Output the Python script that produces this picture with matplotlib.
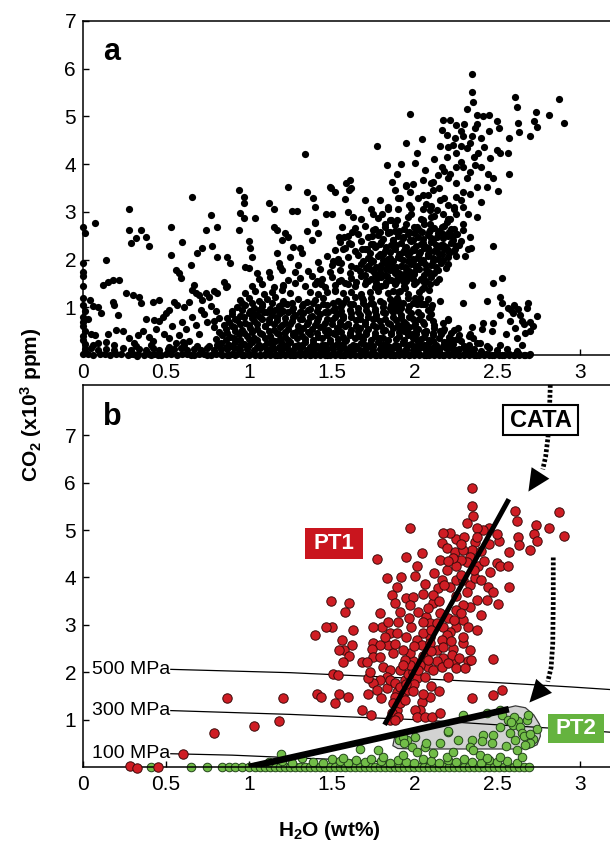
import numpy as np
import matplotlib
matplotlib.use("Agg")
import matplotlib.pyplot as plt
from matplotlib.patches import Polygon, Rectangle

plt.rcParams['font.family'] = ['Liberation Sans', 'DejaVu Sans']
plt.rcParams['mathtext.fontset'] = 'custom'
plt.rcParams['mathtext.rm'] = 'Liberation Sans:bold'
plt.rcParams['mathtext.it'] = 'Liberation Sans:bold'
plt.rcParams['mathtext.bf'] = 'Liberation Sans:bold'
plt.rcParams['mathtext.default'] = 'rm'


def pairs(text):
    v = np.array(text.replace(',', ' ').split(), dtype=float).reshape(-1, 2)
    return v[:, 0], v[:, 1]


# ---------------- data (H2O wt%, CO2 x10^3 ppm) ----------------
PT1_H2O, PT1_CO2 = pairs("""
2.346 5.88, 2.346 5.51, 2.356 5.30, 2.32 5.15, 2.607 5.41, 2.617 5.20, 2.875 5.37, 2.903 4.87,
2.815 5.04, 2.733 5.10, 2.724 4.91, 2.742 4.77, 2.697 4.58, 2.627 4.86, 2.631 4.68, 2.573 4.54,
2.513 4.76, 2.500 4.91, 2.452 5.04, 2.417 5.00, 2.376 5.04, 2.366 4.75, 2.35 4.58, 2.254 4.82,
2.214 4.93, 2.174 4.93, 2.164 4.72, 2.194 4.61, 2.244 4.54, 2.295 4.58, 2.335 4.44, 2.315 4.33,
2.279 4.37, 2.254 4.23, 2.154 4.37, 2.194 4.16, 2.164 3.95, 2.144 3.77, 2.214 3.80, 2.254 3.95,
2.295 3.95, 2.335 3.84, 2.366 3.98, 2.386 4.23, 2.456 4.12, 2.496 4.30, 2.517 4.23, 2.567 4.23,
2.573 3.80, 2.446 3.80, 2.476 3.70, 2.436 3.52, 2.507 3.43, 2.376 3.52, 2.335 3.38, 2.295 3.42,
2.254 3.31, 2.295 3.10, 2.325 2.96, 2.254 2.96, 2.214 2.85, 2.154 3.24, 2.113 3.45, 2.113 3.63,
2.053 3.66, 2.063 3.87, 2.013 4.23, 2.043 4.52, 2.003 4.02, 1.952 4.44, 1.976 5.05, 1.776 4.38,
1.836 3.98, 1.922 4.00, 1.892 3.80, 1.862 3.63, 1.952 3.56, 1.992 3.59, 1.972 3.42, 1.912 3.28,
2.023 3.28, 2.073 3.17, 2.093 3.03, 2.134 3.03, 2.174 2.96, 2.194 2.78, 2.164 2.68, 2.093 2.75,
2.053 2.82, 2.013 2.68, 2.043 2.57, 2.093 2.61, 2.134 2.47, 2.174 2.54, 2.234 2.50, 2.295 2.61,
2.335 2.47, 2.295 2.75, 2.325 2.23, 2.244 2.23, 2.224 2.37, 2.174 2.30, 2.134 2.23, 2.083 2.12,
2.033 2.15, 1.993 2.23, 1.972 2.40, 1.932 2.47, 1.872 2.40, 1.842 2.57, 1.852 2.82, 1.892 2.82,
1.802 2.96, 1.752 2.96, 1.792 3.24, 1.842 3.06, 1.752 2.61, 1.792 2.57, 1.742 2.50, 1.752 2.33,
1.792 2.33, 1.812 2.12, 1.852 2.04, 1.832 1.90, 1.792 1.83, 1.752 1.77, 1.722 1.87, 1.732 2.01,
1.682 2.22, 1.716 2.22, 1.621 2.57, 1.631 2.89, 1.573 2.47, 1.606 2.35, 1.567 2.22, 1.543 2.47,
1.561 2.68, 1.501 2.96, 1.466 2.96, 1.400 2.78, 1.497 3.51, 1.606 3.45, 1.581 3.26, 1.511 1.97,
1.541 1.94, 1.410 1.55, 1.434 1.48, 1.519 1.36, 1.546 1.55, 1.601 1.48, 1.682 1.20, 1.736 1.10,
1.718 1.55, 1.772 1.62, 1.796 1.45, 1.836 1.66, 1.852 1.84, 1.882 1.77, 1.892 1.59, 1.912 1.69,
1.932 1.55, 1.942 1.84, 1.962 1.97, 1.993 2.01, 1.972 2.15, 1.912 2.04, 1.942 2.25, 2.013 1.87,
2.063 1.90, 2.113 2.04, 2.164 2.12, 2.204 1.90, 2.254 2.08, 2.305 2.08, 2.340 2.25, 2.476 2.28,
1.882 1.48, 1.872 1.34, 1.892 1.20, 1.862 1.13, 1.902 1.06, 1.852 0.99, 1.882 0.99, 1.912 1.34,
1.942 1.41, 1.962 1.62, 2.043 1.38, 2.033 1.20, 2.003 1.20, 2.013 1.06, 2.063 1.06, 2.104 1.05,
2.093 1.48, 2.154 1.13, 2.346 1.46, 2.476 1.51, 2.527 1.62,
2.05 2.35, 2.10 2.90, 2.00 2.55, 1.95 2.75, 2.15 3.50, 2.20 3.15, 2.25 3.60, 2.28 4.05,
2.12 4.10, 2.05 3.05, 1.98 2.95, 2.08 3.35, 2.18 3.85, 2.23 4.40, 2.30 4.85, 2.40 4.55,
2.42 4.35, 1.93 2.15, 1.88 2.60, 1.97 3.15, 2.22 2.65, 2.38 2.90, 2.40 3.20,
2.00 1.75, 2.10 1.70, 2.15 1.60, 2.05 1.55, 2.20 2.20, 2.27 2.30, 2.10 2.45, 2.24 3.10,
2.28 3.25, 2.32 3.70, 2.40 3.95, 2.36 4.15, 2.45 4.70, 2.28 4.70, 2.38 4.85, 2.20 4.35,
1.90 3.05, 1.88 3.45, 1.82 2.75, 1.95 1.75, 1.99 1.60, 2.02 2.05, 2.08 2.25,
0.867 1.45, 1.205 1.45, 0.792 0.71, 1.034 0.86, 1.183 0.98, 0.603 0.27, 0.284 0.02, 0.328 -0.02,
0.455 0.00
""")

PT2_H2O, PT2_CO2 = pairs("""
0.41 0.00, 0.65 0.00, 0.75 0.00, 0.84 0.01, 0.88 0.00, 0.92 0.00, 0.96 0.01, 1.00 0.00,
1.04 0.00, 1.07 0.01, 1.10 0.00, 1.13 0.00, 1.16 0.01, 1.19 0.00, 1.22 0.00, 1.25 0.01,
1.28 0.00, 1.31 0.00, 1.34 0.01, 1.37 0.00, 1.40 0.00, 1.43 0.01, 1.46 0.00, 1.49 0.00,
1.52 0.01, 1.55 0.00, 1.58 0.00, 1.61 0.01, 1.64 0.00, 1.67 0.00, 1.70 0.01, 1.73 0.00,
1.76 0.00, 1.79 0.01, 1.82 0.00, 1.85 0.00, 1.88 0.01, 1.91 0.00, 1.94 0.00, 1.97 0.01,
2.00 0.00, 2.03 0.00, 2.06 0.01, 2.09 0.00, 2.12 0.00, 2.15 0.01, 2.18 0.00, 2.21 0.00,
2.24 0.01, 2.27 0.00, 2.30 0.00, 2.33 0.01, 2.36 0.00, 2.39 0.00, 2.42 0.01, 2.45 0.00,
2.48 0.00, 2.51 0.01, 2.54 0.00, 2.57 0.00, 2.60 0.01, 2.63 0.00, 2.66 0.00, 2.69 0.01,
1.12 0.10, 1.20 0.12, 1.26 0.08, 1.32 0.18, 1.39 0.11, 1.45 0.09, 1.50 0.16, 1.55 0.12,
1.60 0.08, 1.65 0.14, 1.70 0.10, 1.74 0.17, 1.80 0.12, 1.85 0.08, 1.90 0.15, 1.95 0.11,
2.00 0.09, 2.05 0.16, 2.10 0.12, 2.15 0.08, 2.20 0.14, 2.25 0.10, 2.30 0.17, 2.35 0.11,
2.40 0.09, 2.45 0.15, 2.50 0.10, 2.56 0.13, 2.62 0.09,
1.195 0.27, 1.572 0.18, 1.812 0.22, 1.933 0.25,
2.295 1.10, 2.436 1.14, 2.516 1.21, 2.527 1.10, 2.567 0.99, 2.627 0.96, 2.677 0.99, 2.597 0.89,
2.637 0.84, 2.516 0.84, 2.577 0.71, 2.607 0.57, 2.647 0.71, 2.718 0.60, 2.697 0.50, 2.667 0.46,
2.412 0.67, 2.472 0.67, 2.466 0.50, 2.406 0.55, 2.346 0.58, 2.265 0.56, 2.205 0.74, 2.154 0.50,
1.953 0.57, 2.004 0.64, 1.909 0.57, 1.983 0.43, 2.064 0.43, 2.017 0.32, 2.114 0.29, 2.195 0.22,
2.235 0.32, 2.336 0.43, 2.356 0.36, 2.396 0.25, 2.436 0.18, 2.516 0.22, 2.647 0.22, 1.782 0.36,
1.672 0.39, 2.737 0.81, 2.687 1.10, 2.200 0.75, 1.930 0.64, 1.940 0.50, 2.070 0.50, 2.600 1.05,
2.660 0.65, 2.550 0.45, 2.620 0.35, 2.700 0.70, 2.580 0.95
""")

# additional analyses shown only in panel a
OTHER_H2O, OTHER_CO2 = pairs("""
0.00 0.02, 0.03 0.03, 0.06 0.01, 0.10 0.03, 0.13 0.02, 0.16 0.01, 0.20 0.03, 0.23 0.02,
0.27 0.01, 0.30 0.03, 0.33 0.02, 0.37 0.01, 0.40 0.03, 0.43 0.02, 0.47 0.01, 0.50 0.03,
0.53 0.02, 0.57 0.01, 0.60 0.03, 0.63 0.02, 0.67 0.01, 0.70 0.03, 0.73 0.02, 0.77 0.01,
0.80 0.03, 0.83 0.02, 0.87 0.01, 0.90 0.03, 0.93 0.02, 0.97 0.01, 1.00 0.03, 1.03 0.02,
1.07 0.01, 1.10 0.03, 1.13 0.02, 1.17 0.01, 1.20 0.03, 1.23 0.02, 1.27 0.01, 1.30 0.03,
1.33 0.02, 1.37 0.01, 1.40 0.03, 1.43 0.02, 1.47 0.01, 1.50 0.03, 1.53 0.02, 1.57 0.01,
1.60 0.03, 1.63 0.02, 1.67 0.01, 1.70 0.03, 1.73 0.02, 1.77 0.01, 1.80 0.03, 1.83 0.02,
1.87 0.01, 1.90 0.03, 1.93 0.02, 1.97 0.01, 2.00 0.03, 2.03 0.02, 2.07 0.01, 2.10 0.03,
2.13 0.02, 2.17 0.01, 2.20 0.03, 2.23 0.02, 2.27 0.01, 2.30 0.03, 2.33 0.02, 2.37 0.01,
2.40 0.03, 2.43 0.02, 2.47 0.01, 2.50 0.02, 2.53 0.01, 2.57 0.02, 2.60 0.01, 2.63 0.02,
2.67 0.01, 2.70 0.02,
0.01 0.12, 0.05 0.14, 0.09 0.10, 0.14 0.13, 0.19 0.11, 0.24 0.15, 0.29 0.10, 0.34 0.13,
0.38 0.11, 0.42 0.15, 0.46 0.10, 0.51 0.13, 0.55 0.12, 0.59 0.15, 0.63 0.10, 0.67 0.13,
0.71 0.11, 0.75 0.15, 0.79 0.10, 0.83 0.13, 0.87 0.12, 0.91 0.15, 0.95 0.10, 0.99 0.13,
1.03 0.11, 1.07 0.15, 1.11 0.10, 1.15 0.13, 1.19 0.12, 1.23 0.15, 1.27 0.10, 1.31 0.13,
1.35 0.11, 1.39 0.15, 1.43 0.10, 1.47 0.13, 1.51 0.12, 1.55 0.15, 1.59 0.10, 1.63 0.13,
1.67 0.11, 1.71 0.15, 1.75 0.10, 1.79 0.13, 1.83 0.12, 1.87 0.15, 1.91 0.10, 1.95 0.13,
1.99 0.11, 2.03 0.15, 2.07 0.10, 2.11 0.13, 2.15 0.12, 2.19 0.15, 2.23 0.10, 2.27 0.13,
2.31 0.11, 2.36 0.12,
0.00 2.69, 0.01 2.56, 0.07 2.76, 0.00 1.92, 0.00 1.75, 0.00 1.66, 0.00 1.45, 0.00 1.20,
0.00 1.05, 0.01 0.92, 0.00 0.80, 0.00 0.70, 0.00 0.60, 0.01 0.50, 0.00 0.40, 0.00 0.32,
0.01 0.24, 0.04 1.15, 0.06 1.02, 0.09 1.00, 0.11 0.88, 0.03 0.75, 0.05 0.45, 0.07 0.42,
0.06 0.20, 0.09 0.25, 0.14 1.99, 0.12 1.47, 0.15 1.54, 0.18 1.57, 0.22 1.57, 0.18 1.12,
0.19 1.05, 0.21 0.84, 0.15 0.45, 0.20 0.52, 0.24 0.50, 0.14 0.28, 0.19 0.22,
0.28 3.07, 0.28 2.62, 0.29 2.34, 0.32 2.45, 0.35 2.62, 0.38 2.47, 0.40 2.29, 0.26 1.29,
0.30 1.26, 0.34 1.22, 0.35 1.08, 0.42 1.12, 0.46 1.15,
0.28 0.35, 0.31 0.25, 0.33 0.42, 0.36 0.50, 0.40 0.38, 0.42 0.30, 0.44 0.55, 0.46 0.72,
0.48 0.80, 0.50 0.88, 0.43 0.74, 0.38 0.75, 0.49 0.45, 0.52 0.35, 0.54 0.60, 0.56 0.25,
0.58 0.42, 0.60 0.70, 0.62 0.55, 0.64 0.30, 0.66 0.80, 0.68 0.62, 0.70 0.45,
0.53 2.69, 0.53 2.10, 0.56 1.78, 0.58 1.71, 0.59 1.62, 0.60 2.36, 0.66 3.32, 0.65 1.89,
0.67 1.47, 0.66 1.36, 0.69 2.13, 0.72 2.24, 0.77 2.94, 0.78 2.29, 0.74 2.62, 0.81 2.69,
0.81 2.06, 0.87 2.06, 0.89 1.92, 0.85 1.54, 0.86 1.43,
0.55 1.12, 0.57 1.05, 0.52 0.95, 0.61 1.00, 0.64 1.12, 0.68 1.30, 0.70 1.25, 0.72 1.15,
0.74 1.30, 0.76 1.22, 0.79 1.35, 0.81 1.30, 0.71 0.95, 0.73 0.85, 0.75 0.70, 0.77 1.02,
0.79 0.58, 0.80 0.92, 0.82 0.78,
0.94 3.46, 0.97 3.32, 0.97 3.18, 0.95 2.97, 0.97 2.87, 1.04 2.87, 0.94 2.62, 1.00 2.38,
1.01 2.24, 1.02 2.06, 0.98 1.85, 1.00 1.82, 1.05 1.71, 1.12 3.18, 1.15 3.07, 1.15 2.69,
1.17 2.62, 1.17 2.13, 1.19 1.85, 1.20 2.41, 1.24 2.48, 1.24 3.53, 1.26 3.02, 1.29 3.02,
1.22 2.55, 1.27 2.27, 1.31 2.24, 1.32 2.13, 1.34 4.21, 1.35 3.41, 1.39 3.28, 1.40 3.11,
1.35 2.59, 1.38 2.41, 1.40 2.76, 1.42 2.55,
0.83 0.26, 0.88 0.22, 0.92 0.28, 0.97 0.24, 1.02 0.27, 1.06 0.22, 1.11 0.26, 1.16 0.29,
1.20 0.23, 1.25 0.27, 1.30 0.22, 1.34 0.28, 1.39 0.25, 1.44 0.22, 1.49 0.27, 1.53 0.24,
1.58 0.29, 1.63 0.22, 1.68 0.26, 1.73 0.23, 1.78 0.28, 1.83 0.24, 1.88 0.21, 1.93 0.27,
1.98 0.23, 2.03 0.28, 2.08 0.24, 2.13 0.22, 2.18 0.27, 2.23 0.23, 2.28 0.29, 2.33 0.22,
2.38 0.26,
0.84 0.42, 0.89 0.38, 0.94 0.44, 0.99 0.40, 1.03 0.36, 1.08 0.43, 1.13 0.39, 1.18 0.45,
1.22 0.37, 1.27 0.42, 1.32 0.40, 1.37 0.44, 1.42 0.38, 1.47 0.41, 1.52 0.45, 1.57 0.37,
1.61 0.42, 1.66 0.39, 1.71 0.44, 1.76 0.40, 1.81 0.36, 1.86 0.43, 1.91 0.39, 1.96 0.41,
2.01 0.45, 2.06 0.38, 2.11 0.42, 2.16 0.44, 2.21 0.37, 2.27 0.41, 2.33 0.39,
0.86 0.55, 0.91 0.58, 0.96 0.52, 1.01 0.57, 1.05 0.54, 1.10 0.60, 1.15 0.53, 1.19 0.58,
1.24 0.55, 1.29 0.51, 1.33 0.57, 1.38 0.54, 1.43 0.59, 1.48 0.52, 1.53 0.56, 1.58 0.60,
1.62 0.53, 1.67 0.57, 1.72 0.54, 1.77 0.59, 1.82 0.52, 1.87 0.56, 1.92 0.53, 1.97 0.58,
2.02 0.55, 2.07 0.51, 2.12 0.57, 2.18 0.54, 2.24 0.52,
0.88 0.70, 0.93 0.74, 0.98 0.68, 1.03 0.72, 1.08 0.76, 1.12 0.69, 1.17 0.73, 1.22 0.67,
1.26 0.71, 1.31 0.75, 1.36 0.69, 1.41 0.72, 1.46 0.68, 1.50 0.74, 1.55 0.70, 1.60 0.66,
1.65 0.73, 1.70 0.69, 1.75 0.75, 1.79 0.71, 1.84 0.68, 1.89 0.73, 1.94 0.70, 1.99 0.76,
2.05 0.69, 2.11 0.72, 2.17 0.68,
0.90 0.86, 0.95 0.82, 1.00 0.88, 1.05 0.84, 1.09 0.90, 1.14 0.83, 1.19 0.87, 1.24 0.91,
1.28 0.84, 1.33 0.88, 1.38 0.82, 1.43 0.86, 1.48 0.90, 1.53 0.85, 1.57 0.81, 1.62 0.87,
1.67 0.84, 1.72 0.89, 1.77 0.83, 1.82 0.87, 1.87 0.91, 1.92 0.84, 1.98 0.88, 2.04 0.83,
2.10 0.86,
0.93 1.00, 0.98 1.04, 1.03 0.98, 1.08 1.03, 1.13 0.97, 1.18 1.02, 1.23 1.06, 1.27 0.99,
1.32 1.03, 1.37 0.97, 1.42 1.01, 1.47 1.05, 1.52 0.98, 1.56 1.02, 1.61 1.06, 1.66 0.99,
1.71 1.03, 1.76 0.97, 1.81 1.01, 1.86 1.05, 1.92 0.99, 1.97 1.02, 2.04 1.06, 2.10 0.99,
0.95 1.15, 1.00 1.19, 1.06 1.13, 1.11 1.17, 1.16 1.21, 1.21 1.14, 1.30 1.18, 1.35 1.12,
1.40 1.16, 1.45 1.20, 1.54 1.13, 1.59 1.17, 1.64 1.21, 1.69 1.15, 1.74 1.19, 1.79 1.13,
1.85 1.18, 1.90 1.14, 1.96 1.20, 2.02 1.15, 2.08 1.18,
0.98 1.30, 1.04 1.34, 1.09 1.28, 1.14 1.32, 1.20 1.36, 1.25 1.29, 1.37 1.33, 1.42 1.27,
1.47 1.31, 1.52 1.35, 1.57 1.29, 1.62 1.33, 1.68 1.27, 1.73 1.31, 1.78 1.35, 1.84 1.29,
1.90 1.33, 1.96 1.28, 2.03 1.32, 2.09 1.36,
1.02 1.45, 1.08 1.49, 1.15 1.43, 1.21 1.47, 1.28 1.51, 1.34 1.44, 1.40 1.48, 1.46 1.42,
1.52 1.46, 1.58 1.50, 1.64 1.44, 1.70 1.48, 1.76 1.42, 1.82 1.46, 1.88 1.50, 1.94 1.44,
2.00 1.48, 2.06 1.43,
1.06 1.60, 1.13 1.64, 1.24 1.58, 1.31 1.62, 1.38 1.66, 1.44 1.59, 1.50 1.63, 1.56 1.57,
1.62 1.61, 1.68 1.65, 1.74 1.59, 1.80 1.63, 1.86 1.57, 1.92 1.61, 1.98 1.65, 2.04 1.60,
2.10 1.63,
1.12 1.75, 1.20 1.79, 1.28 1.73, 1.36 1.77, 1.43 1.81, 1.49 1.74, 1.55 1.78, 1.61 1.72,
1.67 1.76, 1.73 1.80, 1.79 1.74, 1.85 1.78, 1.91 1.72, 1.97 1.76, 2.03 1.80, 2.09 1.75,
2.14 1.78,
1.18 1.92, 1.30 1.88, 1.42 1.94, 1.50 1.88, 1.56 1.92, 1.62 1.86, 1.68 1.90, 1.74 1.94,
1.80 1.88, 1.86 1.92, 1.92 1.86, 1.98 1.90, 2.04 1.94, 2.10 1.88, 2.16 1.92,
1.25 2.05, 1.47 2.08, 1.54 2.02, 1.60 2.06, 1.66 2.10, 1.72 2.04, 1.78 2.08, 1.84 2.02,
1.90 2.06, 1.96 2.10, 2.02 2.04, 2.08 2.08, 2.14 2.02, 2.20 2.06,
1.52 2.20, 1.58 2.24, 1.64 2.18, 1.70 2.22, 1.76 2.26, 1.82 2.19, 1.88 2.23, 1.94 2.17,
2.00 2.21, 2.06 2.25, 2.12 2.19, 2.18 2.23, 2.24 2.18,
1.55 2.36, 1.62 2.32, 1.68 2.38, 1.74 2.33, 1.80 2.37, 1.86 2.31, 1.92 2.35, 1.98 2.39,
2.04 2.33, 2.10 2.37, 2.16 2.31, 2.22 2.35, 2.28 2.39,
1.60 2.50, 1.66 2.54, 1.72 2.48, 1.78 2.52, 1.84 2.56, 1.90 2.49, 1.96 2.53, 2.02 2.47,
2.08 2.51, 2.14 2.55, 2.20 2.49, 2.26 2.53,
1.64 2.66, 1.70 2.70, 1.76 2.64, 1.82 2.68, 1.88 2.72, 1.94 2.65, 2.00 2.69, 2.06 2.74,
2.12 2.67, 2.18 2.71, 2.24 2.65, 1.68 2.85, 1.78 2.88, 1.86 2.82, 1.96 2.90, 2.04 2.84,
2.12 2.92, 2.20 2.86, 1.60 3.00, 1.74 3.05, 1.84 3.10, 1.98 3.08, 2.10 3.12, 2.24 3.05,
1.70 3.25, 1.90 3.30, 2.05 3.35, 2.18 3.28, 1.62 3.50, 1.95 3.55, 2.10 3.60, 2.20 3.70,
1.49 3.53, 1.52 3.42, 1.59 3.60, 1.61 3.67,
0.32 0.18, 0.41 0.20, 0.52 0.17, 0.61 0.20, 0.69 0.19, 0.76 0.18, 0.81 0.20, 0.86 0.17,
0.90 0.19, 0.95 0.18, 1.00 0.20, 1.05 0.17, 1.09 0.19, 1.14 0.21, 1.18 0.17, 1.23 0.20,
1.28 0.18, 1.32 0.20, 1.37 0.17, 1.41 0.19, 1.46 0.21, 1.51 0.18, 1.56 0.20, 1.61 0.17,
1.65 0.19, 1.70 0.21, 1.75 0.18, 1.80 0.20, 1.85 0.17, 1.90 0.19, 1.96 0.20, 2.01 0.18,
2.06 0.20, 2.12 0.17, 2.17 0.19, 2.22 0.20, 2.30 0.18,
0.80 0.33, 0.86 0.31, 0.91 0.35, 0.95 0.32, 1.00 0.34, 1.05 0.31, 1.10 0.35, 1.14 0.32,
1.19 0.34, 1.24 0.31, 1.29 0.35, 1.34 0.33, 1.39 0.31, 1.44 0.35, 1.49 0.32, 1.54 0.34,
1.59 0.31, 1.64 0.35, 1.69 0.33, 1.74 0.31, 1.79 0.35, 1.84 0.32, 1.89 0.34, 1.94 0.31,
1.99 0.35, 2.04 0.33, 2.09 0.31, 2.15 0.35, 2.21 0.32, 2.26 0.34,
0.82 0.48, 0.87 0.46, 0.92 0.50, 0.97 0.47, 1.02 0.49, 1.07 0.46, 1.12 0.50, 1.17 0.47,
1.22 0.49, 1.27 0.46, 1.31 0.50, 1.36 0.48, 1.41 0.46, 1.46 0.50, 1.51 0.47, 1.56 0.49,
1.61 0.46, 1.66 0.50, 1.71 0.48, 1.76 0.46, 1.81 0.50, 1.86 0.47, 1.91 0.49, 1.96 0.46,
2.01 0.50, 2.06 0.48, 2.11 0.46, 2.17 0.50, 2.22 0.47,
0.85 0.63, 0.90 0.61, 0.95 0.65, 1.00 0.62, 1.05 0.64, 1.10 0.61, 1.15 0.65, 1.20 0.62,
1.25 0.64, 1.30 0.61, 1.35 0.65, 1.40 0.63, 1.45 0.61, 1.50 0.65, 1.55 0.62, 1.60 0.64,
1.65 0.61, 1.70 0.65, 1.75 0.63, 1.80 0.61, 1.85 0.65, 1.90 0.62, 1.95 0.64, 2.00 0.61,
2.06 0.65, 2.12 0.62,
0.87 0.78, 0.92 0.76, 0.97 0.80, 1.02 0.77, 1.07 0.79, 1.12 0.76, 1.17 0.80, 1.22 0.77,
1.27 0.79, 1.32 0.76, 1.37 0.80, 1.42 0.78, 1.47 0.76, 1.52 0.80, 1.57 0.77, 1.62 0.79,
1.67 0.76, 1.72 0.80, 1.77 0.78, 1.82 0.76, 1.87 0.80, 1.92 0.77, 1.97 0.79, 2.03 0.76,
2.09 0.79,
0.90 0.93, 0.96 0.95, 1.01 0.92, 1.06 0.94, 1.11 0.91, 1.16 0.95, 1.21 0.92, 1.26 0.94,
1.31 0.91, 1.36 0.95, 1.41 0.93, 1.46 0.91, 1.51 0.95, 1.56 0.92, 1.61 0.94, 1.66 0.91,
1.71 0.95, 1.76 0.93, 1.81 0.91, 1.86 0.95, 1.91 0.92, 1.96 0.94, 2.02 0.91, 2.08 0.94,
0.96 1.08, 1.02 1.10, 1.08 1.07, 1.14 1.09, 1.20 1.06, 1.26 1.10, 1.33 1.07, 1.39 1.09,
1.45 1.06, 1.51 1.10, 1.57 1.08, 1.63 1.06, 1.69 1.10, 1.75 1.07, 1.81 1.09, 1.87 1.06,
1.93 1.10, 1.99 1.08, 2.05 1.06,
1.65 1.52, 1.71 1.55, 1.77 1.51, 1.83 1.54, 1.89 1.53, 1.95 1.56, 2.01 1.52, 2.07 1.55,
2.13 1.52, 1.70 1.67, 1.76 1.70, 1.82 1.68, 1.88 1.71, 1.94 1.67, 2.00 1.70, 2.06 1.68,
2.12 1.71, 1.65 1.83, 1.71 1.82, 1.77 1.85, 1.83 1.81, 1.89 1.84, 1.95 1.82, 2.01 1.85,
2.07 1.81, 2.13 1.84, 2.19 1.82, 1.69 1.98, 1.75 1.97, 1.81 2.00, 1.87 1.96, 1.93 1.99,
1.99 1.97, 2.05 2.00, 2.11 1.96, 2.17 1.99, 1.73 2.13, 1.79 2.12, 1.85 2.15, 1.91 2.11,
1.97 2.14, 2.03 2.12, 2.09 2.15, 2.15 2.11, 2.21 2.14, 1.77 2.28, 1.83 2.27, 1.89 2.30,
1.95 2.26, 2.01 2.29, 2.07 2.27, 2.13 2.30, 2.19 2.26, 2.25 2.29, 1.81 2.43, 1.87 2.42,
1.93 2.45, 1.99 2.41, 2.05 2.44, 2.11 2.42, 2.17 2.45, 2.23 2.41, 1.85 2.58, 1.91 2.60,
1.97 2.57, 2.03 2.61, 2.09 2.58, 2.15 2.60, 2.21 2.57
""")

# isobars (panel b)
ISO_500_X = [0.53, 1.25, 2.00, 2.50, 2.94, 3.20]
ISO_500_Y = [2.06, 1.99, 1.87, 1.78, 1.69, 1.63]
ISO_300_X = [0.53, 1.25, 2.00, 2.50, 2.82, 3.20]
ISO_300_Y = [1.19, 1.11, 1.00, 0.89, 0.82, 0.73]
ISO_100_X = [0.53, 0.90, 1.30, 1.60, 2.00, 2.40]
ISO_100_Y = [0.28, 0.25, 0.19, 0.15, 0.08, 0.02]
ISO_LABELS = ["500 MPa", "300 MPa", "100 MPa"]

# trend lines
PT1_TREND_X = [1.82, 2.57]
PT1_TREND_Y = [0.89, 5.65]
PT2_TREND_X = [1.00, 2.57]
PT2_TREND_Y = [0.00, 1.22]

# PT2 field outline
FIELD_X = [1.87, 1.88, 1.92, 2.10, 2.30, 2.45, 2.55, 2.61, 2.67, 2.72, 2.755, 2.76, 2.74, 2.69, 2.60, 2.00, 1.90]
FIELD_Y = [0.45, 0.62, 0.70, 0.84, 1.00, 1.13, 1.24, 1.29, 1.25, 1.10, 0.90, 0.65, 0.47, 0.39, 0.38, 0.38, 0.39]

# dotted arrows
ARROW1_X = [2.820, 2.816, 2.806, 2.792, 2.775]
ARROW1_Y = [8.06, 7.60, 6.95, 6.55, 6.28]
ARROW1_TIP = (2.688, 5.81)
ARROW2_X = [2.838, 2.838, 2.835, 2.825, 2.805]
ARROW2_Y = [4.42, 3.50, 2.60, 2.10, 1.80]
ARROW2_TIP = (2.694, 1.36)

XTICKS = [0, 0.5, 1, 1.5, 2, 2.5, 3]
XTICK_LABELS = ["0", "0.5", "1", "1.5", "2", "2.5", "3"]
YTICKS = [1, 2, 3, 4, 5, 6, 7]
YTICK_LABELS = ["1", "2", "3", "4", "5", "6", "7"]

RED = "#cf1d24"
GREEN = "#72bd48"

# ---------------- figure ----------------
W, H = 610, 843
fig = plt.figure(figsize=(W / 100, H / 100), dpi=100)


def px_axes(left, top, right, bottom):
    return [left / W, 1 - bottom / H, (right - left) / W, (bottom - top) / H]


axA = fig.add_axes(px_axes(83, 21, 610, 355))
axB = fig.add_axes(px_axes(83, 385, 610, 767))

for ax in (axA, axB):
    ax.set_xlim(0, 527 / 165.7)
    ax.spines['right'].set_visible(False)
    for s in ('left', 'top', 'bottom'):
        ax.spines[s].set_linewidth(1.1)
    ax.tick_params(direction='in', length=4, width=1, labelsize=15, pad=5,
                   top=False, right=False)
    ax.set_xticks(XTICKS)
    ax.set_xticklabels(XTICK_LABELS)
    ax.set_yticks(YTICKS)
    ax.set_yticklabels(YTICK_LABELS)
    ax.tick_params(axis='x', pad=6)

axA.set_ylim(0, 7)
axB.set_ylim(0, 382 / 47.4)

# panel a: all analyses in black
all_x = np.concatenate([OTHER_H2O, PT1_H2O, PT2_H2O])
all_y = np.concatenate([OTHER_CO2, PT1_CO2, PT2_CO2])
axA.scatter(all_x, all_y, s=27, c='black', linewidths=0, clip_on=False, zorder=3)
axA.text(0.038, 0.907, 'a', transform=axA.transAxes, fontsize=22, fontweight='bold',
         ha='left', va='center')

# panel b
axB.add_patch(Polygon(np.column_stack([FIELD_X, FIELD_Y]), closed=True, fc='#d2d2d2',
                      ec='#3a3a3a', lw=0.9, zorder=1))
for xs, ys, lab in zip((ISO_500_X, ISO_300_X, ISO_100_X), (ISO_500_Y, ISO_300_Y, ISO_100_Y), ISO_LABELS):
    axB.plot(xs, ys, color='black', lw=0.9, zorder=1.5, clip_on=True)
    axB.text(0.055, ys[0], lab, fontsize=14, ha='left', va='center', zorder=6)

axB.scatter(PT2_H2O, PT2_CO2, s=38, c=GREEN, edgecolors='#23461a', linewidths=0.7,
            clip_on=False, zorder=2)
axB.scatter(PT1_H2O, PT1_CO2, s=46, c=RED, edgecolors='#3b0a0a', linewidths=0.7,
            clip_on=False, zorder=3)

axB.plot(PT1_TREND_X, PT1_TREND_Y, color='black', lw=3.6, solid_capstyle='butt', zorder=4)
axB.plot(PT2_TREND_X, PT2_TREND_Y, color='black', lw=4.8, solid_capstyle='butt', zorder=4)

for xs, ys, tip in ((ARROW1_X, ARROW1_Y, ARROW1_TIP), (ARROW2_X, ARROW2_Y, ARROW2_TIP)):
    axB.plot(xs, ys, color='black', lw=3.4, linestyle=(0, (0.6, 0.45)),
             dash_capstyle='butt', zorder=5, clip_on=False)
    axB.annotate('', xy=tip, xytext=(xs[-1], ys[-1]),
                 arrowprops=dict(arrowstyle='-|>,head_length=0.8,head_width=0.38',
                                 mutation_scale=20, color='black', lw=0,
                                 shrinkA=0, shrinkB=0), zorder=5)

# label boxes
LABEL_BOXES = [
    ("PT1", (1.34, 4.39), 0.35, 0.65, '#c9151e', 'white', 'none', 16),
    ("PT2", (2.806, 0.506), 0.338, 0.612, '#65b33f', 'white', 'none', 16),
    ("CATA", (2.535, 7.00), 0.452, 0.64, 'white', 'black', 'black', 17),
]
for txt, (x0, y0), w, h, fc, tc, ec, fs in LABEL_BOXES:
    axB.add_patch(Rectangle((x0, y0), w, h, fc=fc, ec=ec, lw=1.5, zorder=6, clip_on=False))
    axB.text(x0 + w / 2, y0 + h / 2, txt, color=tc, fontsize=fs, fontweight='bold',
             ha='center', va='center', zorder=7)

axB.text(0.038, 0.916, 'b', transform=axB.transAxes, fontsize=22, fontweight='bold',
         ha='left', va='center')

fig.text(31 / W, 1 - 405 / H, 'CO$_2$ (x10$^3$ ppm)', rotation=90, ha='center', va='center',
         fontsize=15, fontweight='bold')
fig.text(329 / W, 1 - 831 / H, 'H$_2$O (wt%)', ha='center', va='center',
         fontsize=15, fontweight='bold')

fig.savefig('out.png', dpi=100)
